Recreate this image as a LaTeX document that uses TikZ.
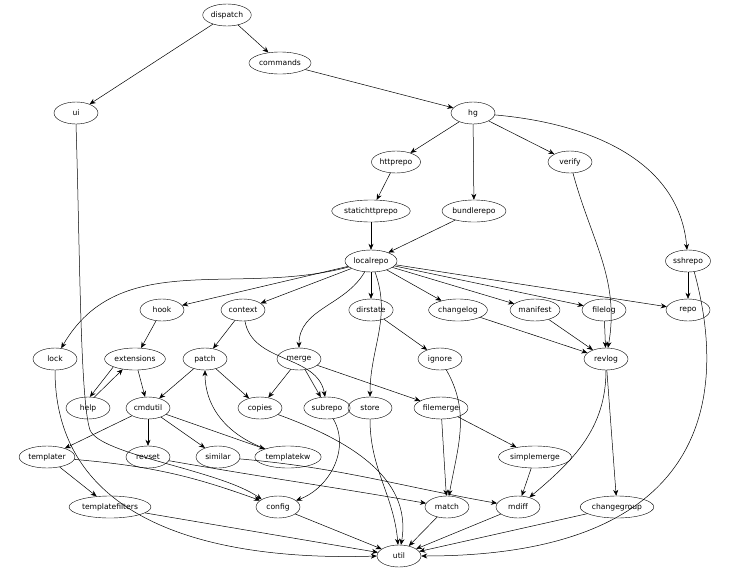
\documentclass[tikz,border=0pt]{standalone}
\usepackage{fontspec}
\setmainfont{DejaVu Sans}
\usetikzlibrary{shapes.geometric,arrows.meta}
\begin{document}
\begin{tikzpicture}[x=1pt,y=-1pt,
  n/.style={draw,ellipse,inner sep=1pt,minimum height=22pt,minimum width=44pt,font=\fontsize{7.6}{8}\selectfont},
  e/.style={-{Stealth[length=6pt,width=5pt]},line width=0.5pt}]
\useasboundingbox (0,0) rectangle (729,573);
\foreach \nm/\x/\y in {dispatch/227/15,commands/280/63,ui/76/113,hg/473/113,httprepo/396/162,verify/570/162,
 statichttprepo/371/211,bundlerepo/474/211,localrepo/371/261,sshrepo/688/261,hook/162/310,context/243/310,
 dirstate/371/310,changelog/458/310,manifest/535/310,filelog/604/310,repo/688/310,lock/55/359,extensions/135/359,
 patch/205/359,merge/299/359,ignore/440/359,revlog/606/359,help/88/408,cmdutil/148/408,copies/260/408,
 subrepo/327/408,store/370/408,filemerge/441/408,templater/47/457,revset/148/457,similar/218/457,
 templatekw/288/457,simplemerge/535/457,templatefilters/110/507,config/278/507,match/447/507,mdiff/518/507,
 changegroup/617/507,util/399/556}
 \node[n] (\nm) at (\x,\y) {\nm};
\foreach \a/\b in {dispatch/commands,dispatch/ui,commands/hg,hg/httprepo,hg/verify,hg/bundlerepo,
 httprepo/statichttprepo,statichttprepo/localrepo,bundlerepo/localrepo,sshrepo/repo,
 localrepo/hook,localrepo/context,localrepo/dirstate,localrepo/changelog,localrepo/manifest,localrepo/filelog,localrepo/repo,
 hook/extensions,extensions/cmdutil,context/patch,patch/cmdutil,patch/copies,
 cmdutil/templater,cmdutil/revset,cmdutil/similar,cmdutil/templatekw,merge/copies,merge/subrepo,merge/filemerge,
 dirstate/ignore,changelog/revlog,manifest/revlog,filelog/revlog,revlog/changegroup,
 filemerge/match,filemerge/simplemerge,simplemerge/mdiff,templater/templatefilters,
 templatefilters/util,config/util,match/util,mdiff/util,changegroup/util}
 \draw[e] (\a) -- (\b);
\draw[e] (hg) to[out=-5,in=95] (sshrepo);
\draw[e] (extensions.200) -- (help.80);
\draw[e] (help.60) -- (extensions.220);
\draw[e] (verify) to[out=-75,in=80] (revlog);
\draw[e] (sshrepo.-60) .. controls (724,380) and (724,556) .. (util.east);
\draw[e] (ui.south) .. controls (80,250) and (80,400) .. (90,430) .. controls (100,455) and (220,470) .. (config.155);
\draw[e] (localrepo) to[out=195,in=60] (lock);
\draw[e] (localrepo) to[out=-120,in=90] (merge);
\draw[e] (localrepo) to[out=-70,in=90] (store);
\draw[e] (lock.south) .. controls (55,540) and (250,560) .. (util.west);
\draw[e] (context) to[out=-80,in=100] (subrepo);
\draw[e] (templatekw) to[out=160,in=-90] (patch);
\draw[e] (copies) to[out=-20,in=80] (util);
\draw[e] (subrepo) to[out=-60,in=20] (config);
\draw[e] (store) to[out=-90,in=95] (util);
\draw[e] (templater) to[out=-5,in=160] (config);
\draw[e] (ignore) to[out=-60,in=80] (match);
\draw[e] (revset) to[out=-10,in=170] (match);
\draw[e] (similar) to[out=-5,in=170] (mdiff);
\draw[e] (revlog) to[out=-90,in=40] (mdiff);
\end{tikzpicture}
\end{document}
